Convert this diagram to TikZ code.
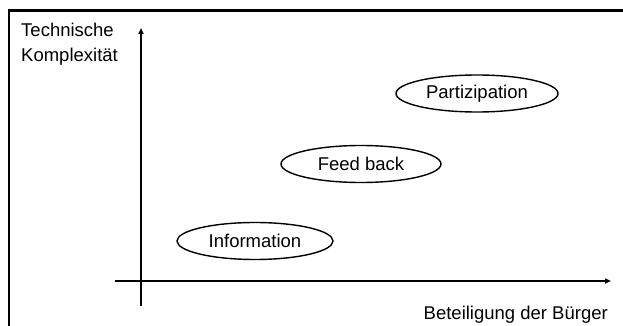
\documentclass[tikz,border=0pt]{standalone}
\usepackage{fontspec}
\setmainfont{Liberation Sans}
\usetikzlibrary{shapes.geometric,arrows.meta}
\tikzset{
  frameline/.style={line width=2.4pt},
  axisline/.style={line width=1.6pt,-{Triangle[length=6pt,width=5pt]}},
  phase/.style={ellipse,draw,line width=1.4pt,inner sep=0pt,minimum height=37pt},
  lbl/.style={inner sep=0pt}
}
\begin{document}
\begin{tikzpicture}[x=1pt,y=-1pt,font=\fontsize{18.5}{25}\selectfont]
\useasboundingbox (0,0) rectangle (623,326);
\coordinate (fbl) at (9,326);
\coordinate (ftl) at (9,10.5);
\coordinate (ftr) at (623,10.5);
\draw[frameline] (fbl) -- (ftl) -- (ftr);
\coordinate (xs) at (115,281);
\coordinate (xe) at (611,281);
\coordinate (ys) at (141,306);
\coordinate (ye) at (141,28);
\draw[axisline] (xs) -- (xe);
\draw[axisline] (ys) -- (ye);
\node[phase,minimum width=162pt] (part) at (477,93.5) {Partizipation};
\node[phase,minimum width=160pt] (feed) at (361,164) {Feed back};
\node[phase,minimum width=156pt] (info) at (255,241) {Information};
\node[lbl,anchor=base west] (yl1) at (21,37) {Technische};
\node[lbl,anchor=base west] (yl2) at (21,62) {Komplexität};
\node[lbl,anchor=base east] (xl) at (608,319.5) {Beteiligung der Bürger};
\end{tikzpicture}
\end{document}
